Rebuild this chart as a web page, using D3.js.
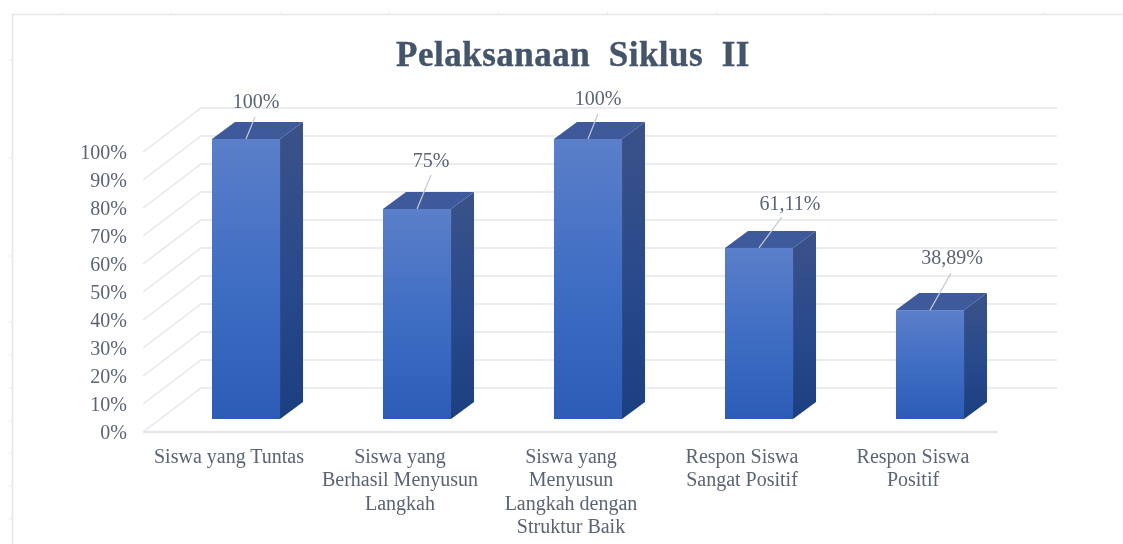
<!DOCTYPE html>
<html>
<head>
<meta charset="utf-8">
<script src="https://cdn.jsdelivr.net/npm/d3@7"></script>
<style>
    html, body { margin: 0; padding: 0; background: #fff; overflow: hidden; }
    svg { display: block; filter: blur(0.55px); }
    text { font-family: "Liberation Serif", serif; fill: #5b6474; }
</style>
</head>
<body>
<div id="chart"></div>
<script>
// data
var categories = ["Siswa yang Tuntas", "Berhasil Menyusun Langkah", "Menyusun Langkah Struktur", "Respon Sangat Positif", "Respon Positif"];
var categoryLines = [
    ["Siswa yang Tuntas"],
    ["Siswa yang", "Berhasil Menyusun", "Langkah"],
    ["Siswa yang", "Menyusun", "Langkah dengan", "Struktur Baik"],
    ["Respon Siswa", "Sangat Positif"],
    ["Respon Siswa", "Positif"]
];
var values = [100, 75, 100, 61.11, 38.89];
var valueLabels = ["100%", "75%", "100%", "61,11%", "38,89%"];
var yTicks = [0, 10, 20, 30, 40, 50, 60, 70, 80, 90, 100];
var title = "Pelaksanaan  Siklus  II";

var width = 1123, height = 544;

// 3D look: wall sits up and to the right of the axis, bars have a smaller depth
var wallDx = 58, wallDy = -44;
var barDx = 23, barDy = -17;

var svg = d3.select("#chart").append("svg")
    .attr("width", width)
    .attr("height", height);

var x = d3.scaleBand()
    .domain(categories)
    .range([160.5, 1015.5])
    .paddingInner(0.602)
    .paddingOuter(0.301);

// axis scale (front edge of the floor)
var y = d3.scaleLinear().domain([0, 100]).range([432, 152]);
// bar scale (front face of the bars)
var yBar = d3.scaleLinear().domain([0, 100]).range([419, 139]);

var defs = svg.append("defs");

function addGradient(id, top, mid, bottom) {
    var g = defs.append("linearGradient")
        .attr("id", id)
        .attr("x1", 0).attr("y1", 0).attr("x2", 0).attr("y2", 1);
    g.append("stop").attr("offset", "0%").attr("stop-color", top);
    g.append("stop").attr("offset", "55%").attr("stop-color", mid);
    g.append("stop").attr("offset", "100%").attr("stop-color", bottom);
}
addGradient("frontFill", "#5b7fc9", "#3d6cc3", "#2c5cb6");
addGradient("sideFill", "#3b5288", "#28498c", "#1c3f80");

// page frame with ruler marks behind the chart
var frame = svg.append("g").attr("stroke", "#e6e7ea").attr("fill", "none");
frame.append("path").attr("stroke-width", 1.5).attr("d", "M12.5,544V14.5H1123");
frame.selectAll(".rulerTop").data(d3.range(62, 1123, 109.1)).enter().append("line")
    .attr("x1", function (d) { return d; }).attr("x2", function (d) { return d; })
    .attr("y1", 12).attr("y2", 15);
frame.selectAll(".rulerLeft").data([60, 158, 256, 322, 355, 388, 421, 453, 486, 519]).enter().append("line")
    .attr("x1", 9).attr("x2", 13)
    .attr("y1", function (d) { return d; }).attr("y2", function (d) { return d; });

// gridlines, back wall plus the slanted side
var grid = svg.append("g").attr("stroke", "#e4e6ea").attr("stroke-width", 1.5).attr("fill", "none");
grid.selectAll("path").data(yTicks).enter().append("path")
    .attr("d", function (d) {
        return "M143," + y(d) + "L" + (143 + wallDx) + "," + (y(d) + wallDy) + "H1057";
    });
grid.append("line")
    .attr("x1", 143).attr("x2", 998)
    .attr("y1", y(0)).attr("y2", y(0))
    .attr("stroke-width", 2.5);

// y axis labels
var yAxis = d3.axisLeft(y)
    .tickValues(yTicks)
    .tickSize(0)
    .tickPadding(0)
    .tickFormat(function (d) { return d + "%"; });

svg.append("g")
    .attr("transform", "translate(127,0)")
    .call(yAxis)
    .call(function (g) { g.select(".domain").remove(); })
    .selectAll("text")
    .style("font-family", '"Liberation Serif", serif')
    .style("font-size", "20px")
    .attr("fill", "#5b6474");

// bars
var rows = categories.map(function (c, i) {
    return { name: c, value: values[i], label: valueLabels[i], lines: categoryLines[i] };
});

var bars = svg.selectAll(".bar").data(rows).enter().append("g").attr("class", "bar");

// side face
bars.append("path")
    .attr("fill", "url(#sideFill)")
    .attr("d", function (d) {
        var r = x(d.name) + x.bandwidth();
        return "M" + r + "," + yBar(d.value) + "l" + barDx + "," + barDy +
            "V" + (yBar(0) + barDy) + "L" + r + "," + yBar(0) + "Z";
    });

// top face
bars.append("path")
    .attr("fill", "#3f5a9a")
    .attr("d", function (d) {
        var l = x(d.name), t = yBar(d.value);
        return "M" + l + "," + t + "l" + barDx + "," + barDy + "h" + x.bandwidth() +
            "l" + (-barDx) + "," + (-barDy) + "Z";
    });

// front face
bars.append("rect")
    .attr("fill", "url(#frontFill)")
    .attr("x", function (d) { return x(d.name); })
    .attr("y", function (d) { return yBar(d.value); })
    .attr("width", x.bandwidth())
    .attr("height", function (d) { return yBar(0) - yBar(d.value); });

// leader lines and value labels, offsets measured from the bar's top centre
var leaderEnds = [[9, -22], [14, -34], [10, -25], [23, -31], [21, -37]];
var labelShift = [[10, -31], [14, -42], [10, -34], [31, -38], [22, -46]];

bars.append("line")
    .attr("stroke", "#c3cad6")
    .attr("stroke-width", 1.2)
    .attr("x1", function (d) { return x(d.name) + x.bandwidth() / 2; })
    .attr("y1", function (d) { return yBar(d.value); })
    .attr("x2", function (d, i) { return x(d.name) + x.bandwidth() / 2 + leaderEnds[i][0]; })
    .attr("y2", function (d, i) { return yBar(d.value) + leaderEnds[i][1]; });

bars.append("text")
    .attr("text-anchor", "middle")
    .style("font-size", "20px")
    .attr("x", function (d, i) { return x(d.name) + x.bandwidth() / 2 + labelShift[i][0]; })
    .attr("y", function (d, i) { return yBar(d.value) + labelShift[i][1]; })
    .text(function (d) { return d.label; });

// category labels, one tspan per line
var catLabels = svg.selectAll(".cat").data(rows).enter().append("text")
    .attr("class", "cat")
    .attr("text-anchor", "middle")
    .style("font-size", "20px");

catLabels.selectAll("tspan")
    .data(function (d) {
        return d.lines.map(function (t) { return { text: t, cx: x(d.name) + x.bandwidth() / 2 - 17 }; });
    })
    .enter().append("tspan")
    .attr("x", function (d) { return d.cx; })
    .attr("y", function (d, i) { return 463 + i * 23.4; })
    .text(function (d) { return d.text; });

// title
svg.append("text")
    .attr("x", 573)
    .attr("y", 66)
    .attr("text-anchor", "middle")
    .style("font-size", "35px")
    .style("font-weight", "bold")
    .style("white-space", "pre")
    .style("letter-spacing", "0.5px")
    .style("fill", "#44546a")
    .style("stroke", "#44546a")
    .style("stroke-width", "0.4px")
    .text(title);
</script>
</body>
</html>
